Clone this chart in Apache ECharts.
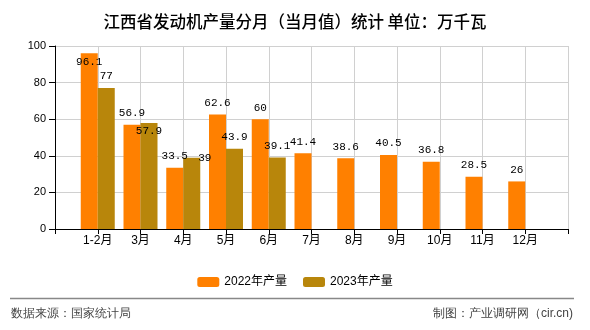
<!DOCTYPE html>
<html><head><meta charset="utf-8">
<script src="https://cdn.jsdelivr.net/npm/echarts@6/dist/echarts.min.js"></script>
<style>html,body{margin:0;padding:0;background:#fff}#c{width:590px;height:330px}</style>
</head><body><div id="c"></div>
<script>
var categories = ['', '1-2月', '3月', '4月', '5月', '6月', '7月', '8月', '9月', '10月', '11月', '12月', ''];
var s2022 = [null, 96.1, 56.9, 33.5, 62.6, 60, 41.4, 38.6, 40.5, 36.8, 28.5, 26, null];
var s2023 = [null, 77, 57.9, 39, 43.9, 39.1, null, null, null, null, null, null, null];
var yTicks = [0, 20, 40, 60, 80, 100];
var seriesNames = ['2022年产量', '2023年产量'];
var titleText = '江西省发动机产量分月（当月值）统计 单位：万千瓦';
var sourceText = '数据来源：国家统计局';
var creditText = '制图：产业调研网（cir.cn)';

var labelFont = 'Liberation Mono, DejaVu Sans Mono, monospace';
var baseFont = 'Liberation Sans, Noto Sans CJK SC, sans-serif';

function items(arr, overrides) {
  return arr.map(function (v, i) {
    if (v === null) return null;
    var o = { value: v };
    if (overrides[i]) o.label = overrides[i];
    return o;
  });
}

var chart = echarts.init(document.getElementById('c'), null, { renderer: 'canvas' });
chart.setOption({
  animation: false,
  backgroundColor: '#fff',
  title: {
    text: titleText, left: 'center', top: 8,
    textStyle: { fontSize: 16.5, fontWeight: 500, color: '#000', fontFamily: 'Noto Sans CJK SC' }
  },
  legend: {
    data: seriesNames, left: 'center', top: 271, itemWidth: 22, itemHeight: 10, itemGap: 16,
    textStyle: { fontSize: 12, color: '#000', fontFamily: baseFont }
  },
  grid: { left: 55, right: 22, top: 46, bottom: 101, show: false },
  xAxis: {
    type: 'category', data: categories, boundaryGap: false,
    axisLine: { lineStyle: { color: '#000', width: 1 } },
    axisTick: { show: true, length: 5, alignWithLabel: true, interval: 0, lineStyle: { color: '#000' } },
    axisLabel: { interval: 0, margin: 6, fontSize: 12, color: '#000', fontFamily: baseFont },
    splitLine: { show: true, interval: 0, lineStyle: { color: '#d0d0d0' } }
  },
  yAxis: {
    type: 'value', min: yTicks[0], max: yTicks[yTicks.length - 1], interval: 20,
    axisLine: { show: true, lineStyle: { color: '#000' } },
    axisTick: { show: true, length: 6, lineStyle: { color: '#000' } },
    axisLabel: { fontSize: 11, color: '#000', margin: 9, fontFamily: baseFont },
    splitLine: { show: true, lineStyle: { color: '#d0d0d0' } }
  },
  series: [
    {
      name: seriesNames[0], type: 'bar', barWidth: 17, barGap: '0%',
      itemStyle: { color: '#FF8000' },
      label: { show: true, position: 'top', distance: 6, fontSize: 11, color: '#000', fontFamily: labelFont },
      data: items(s2022, { 1: { position: 'insideTop', distance: 3 } })
    },
    {
      name: seriesNames[1], type: 'bar', barWidth: 17, barGap: '0%',
      itemStyle: { color: '#B8860B' },
      label: { show: true, position: 'top', distance: 6, fontSize: 11, color: '#000', fontFamily: labelFont },
      data: items(s2023, {
        2: { position: 'insideTop', distance: 3 },
        3: { position: 'top', offset: [13, 12] }
      })
    }
  ],
  graphic: [
    { type: 'line', shape: { x1: 10, y1: 298.5, x2: 574, y2: 298.5 }, style: { stroke: '#888', lineWidth: 1.5 } },
    { type: 'text', left: 11, top: 308, style: { text: sourceText, fontSize: 12, fill: '#444', font: '12px Noto Sans CJK SC' } },
    { type: 'text', right: 17, top: 308, style: { text: creditText, fontSize: 12, fill: '#444', font: '12px Noto Sans CJK SC' } }
  ]
});
</script></body></html>
